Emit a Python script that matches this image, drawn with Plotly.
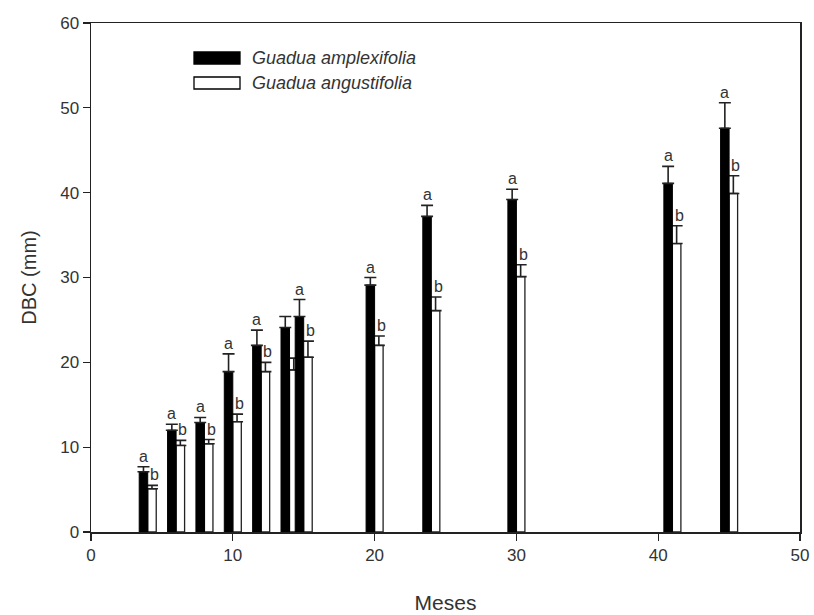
import plotly.graph_objects as go

# ---- data ----
meses = [4, 6, 8, 10, 12, 14, 15, 20, 24, 30, 41, 45]
amplexifolia = [7.1, 12.0, 12.9, 18.9, 22.0, 24.1, 25.4, 29.1, 37.2, 39.2, 41.1, 47.6]
amplexifolia_err = [0.6, 0.7, 0.6, 2.1, 1.8, 1.3, 2.0, 0.9, 1.3, 1.2, 2.0, 3.0]
angustifolia = [5.1, 10.2, 10.4, 13.0, 18.9, 19.1, 20.6, 22.0, 26.1, 30.1, 34.0, 39.9]
angustifolia_err = [0.4, 0.6, 0.5, 0.9, 1.1, 1.4, 1.9, 1.1, 1.6, 1.4, 2.1, 2.1]
letras_a = ["a", "a", "a", "a", "a", "", "a", "a", "a", "a", "a", "a"]
letras_b = ["b", "b", "b", "b", "b", "", "b", "b", "b", "b", "b", "b"]
serie_nombres = ["Guadua amplexifolia", "Guadua angustifolia"]

FONT = "Liberation Sans, Arial, sans-serif"
TXT = "#333333"
BW = 0.6

# pixel geometry of the plot area
PX0, PX1, PY0, PY1 = 91, 800, 23, 532


def px_x(p):
    return (p - PX0) / (PX1 - PX0)


def px_y(p):
    return (PY1 - p) / (PY1 - PY0)


fig = go.Figure()

# white bars first so black bars sit on top where they overlap
fig.add_trace(go.Bar(
    x=meses, y=angustifolia, width=BW, offset=0,
    marker=dict(color="white", line=dict(color="#222222", width=1.3)),
    error_y=dict(type="data", symmetric=False, array=angustifolia_err,
                 arrayminus=[0] * len(meses), color="#222222", thickness=1.6, width=6),
    name=serie_nombres[1], showlegend=False,
))
fig.add_trace(go.Bar(
    x=meses, y=amplexifolia, width=BW, offset=-BW,
    marker=dict(color="black", line=dict(color="black", width=1)),
    error_y=dict(type="data", symmetric=False, array=amplexifolia_err,
                 arrayminus=[0] * len(meses), color="#222222", thickness=1.6, width=6),
    name=serie_nombres[0], showlegend=False,
))

annotations = []
for m, v, e, t in zip(meses, amplexifolia, amplexifolia_err, letras_a):
    if t:
        annotations.append(dict(x=m - BW / 2, y=v + e, text=t, showarrow=False,
                                xanchor="center", yanchor="bottom", yshift=0,
                                font=dict(family=FONT, size=16, color=TXT)))
for m, v, e, t in zip(meses, angustifolia, angustifolia_err, letras_b):
    if t:
        annotations.append(dict(x=m + BW * 0.8, y=v + e, text=t, showarrow=False,
                                xanchor="center", yanchor="bottom", yshift=0,
                                font=dict(family=FONT, size=16, color=TXT)))

# custom legend (large swatches like the original)
shapes = []
legend_boxes = [(52, 64, "black"), (77, 89, "white")]
for i, (y0, y1, col) in enumerate(legend_boxes):
    shapes.append(dict(type="rect", xref="paper", yref="paper",
                       x0=px_x(194), x1=px_x(240), y0=px_y(y1), y1=px_y(y0),
                       fillcolor=col, line=dict(color="black", width=1.3)))
    annotations.append(dict(xref="paper", yref="paper", x=px_x(250),
                            y=px_y((y0 + y1) / 2),
                            text="<i>" + serie_nombres[i] + "</i>", showarrow=False,
                            xanchor="left", yanchor="middle",
                            font=dict(family=FONT, size=18, color=TXT)))

fig.update_layout(
    width=814, height=615,
    margin=dict(l=91, r=14, t=23, b=83, autoexpand=False),
    paper_bgcolor="white", plot_bgcolor="white",
    barmode="overlay", bargap=0,
    font=dict(family=FONT, size=16, color=TXT),
    annotations=annotations, shapes=shapes,
    showlegend=False,
)
fig.update_xaxes(range=[0, 50], tickvals=[0, 10, 20, 30, 40, 50],
                 ticks="outside", ticklen=7, tickwidth=1.3, tickcolor="#222222",
                 showline=True, linecolor="#222222", linewidth=1.5, mirror=True,
                 showgrid=False, zeroline=False, automargin=False,
                 tickfont=dict(family=FONT, size=17, color=TXT),
                 title=dict(text="Meses", font=dict(family=FONT, size=21, color=TXT), standoff=31))
fig.update_yaxes(range=[0, 60], tickvals=[0, 10, 20, 30, 40, 50, 60],
                 ticks="outside", ticklen=7, tickwidth=1.3, tickcolor="#222222",
                 showline=True, linecolor="#222222", linewidth=1.5, mirror=True,
                 showgrid=False, zeroline=False, automargin=False,
                 tickfont=dict(family=FONT, size=17, color=TXT),
                 title=dict(text="DBC (mm)", font=dict(family=FONT, size=20, color=TXT), standoff=18))

fig.write_html(
    "out.html",
    config={"displayModeBar": False, "staticPlot": True},
    post_script="document.body.style.margin='0';document.body.style.overflow='hidden';",
)
